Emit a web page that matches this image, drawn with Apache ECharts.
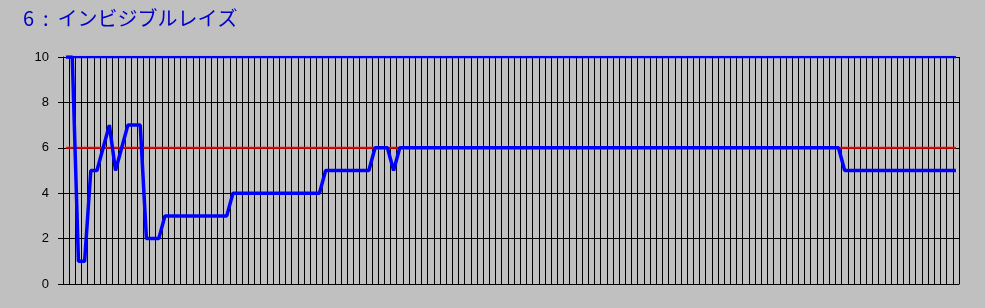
<!DOCTYPE html>
<html>
<head>
<meta charset="utf-8">
<script src="https://cdn.jsdelivr.net/npm/echarts@6/dist/echarts.min.js"></script>
<style>
html,body{margin:0;padding:0;background:#c0c0c0;}
#chart{width:985px;height:308px;}
</style>
</head>
<body>
<div id="chart"></div>
<script>
// ---- data ----
const titleText = "6  :  インビジブルレイズ";
const categoryCount = 145;
const yTicks = [0, 2, 4, 6, 8, 10];
const valuesMain = [
  10, 10, 1, 1, 5, 5, 6, 7, 5, 6, 7, 7, 7, 2, 2, 2,
  3, 3, 3, 3, 3, 3, 3, 3, 3, 3, 3,
  4, 4, 4, 4, 4, 4, 4, 4, 4, 4, 4, 4, 4, 4, 4,
  5, 5, 5, 5, 5, 5, 5, 5,
  6, 6, 6, 5,
  6, 6, 6, 6, 6, 6, 6, 6, 6, 6, 6, 6, 6, 6, 6, 6, 6, 6, 6, 6,
  6, 6, 6, 6, 6, 6, 6, 6, 6, 6, 6, 6, 6, 6, 6, 6, 6, 6, 6, 6,
  6, 6, 6, 6, 6, 6, 6, 6, 6, 6, 6, 6, 6, 6, 6, 6, 6, 6, 6, 6,
  6, 6, 6, 6, 6, 6, 6, 6, 6, 6, 6, 6,
  5, 5, 5, 5, 5, 5, 5, 5, 5, 5, 5, 5, 5, 5, 5, 5, 5, 5, 5
];
const refLevel = 6;   // red reference line
const maxLevel = 10;  // blue top line

const categories = [];
for (let i = 1; i <= categoryCount; i++) categories.push(String(i));
const refValues = categories.map(() => refLevel);
const maxValues = categories.map(() => maxLevel);

const chart = echarts.init(document.getElementById('chart'), null, {renderer: 'canvas'});
chart.setOption({
  animation: false,
  backgroundColor: '#c0c0c0',
  title: {
    text: titleText,
    left: 18,
    top: 3,
    textStyle: {
      fontFamily: '"Noto Sans CJK JP", sans-serif',
      fontSize: 20,
      fontWeight: 'normal',
      color: '#0000c8'
    }
  },
  grid: { left: 63, right: 26, top: 57, bottom: 24, containLabel: false },
  xAxis: {
    type: 'category',
    data: categories,
    boundaryGap: true,
    axisLine: { show: true, lineStyle: { color: '#000', width: 1 } },
    axisTick: { show: false },
    axisLabel: { show: false },
    splitLine: { show: true, interval: 0, lineStyle: { color: '#000', width: 1 } }
  },
  yAxis: {
    type: 'value',
    min: yTicks[0],
    max: yTicks[yTicks.length - 1],
    interval: 2,
    axisLine: { show: true, lineStyle: { color: '#000', width: 1 } },
    axisTick: { show: true, length: 5, lineStyle: { color: '#000' } },
    axisLabel: {
      color: '#000',
      fontFamily: '"Liberation Sans", Arial, sans-serif',
      fontSize: 13,
      margin: 14
    },
    splitLine: { show: true, lineStyle: { color: '#000', width: 1 } }
  },
  series: [
    {
      type: 'line', data: refValues, symbol: 'none',
      lineStyle: { color: '#ff0000', width: 2 }, z: 2
    },
    {
      type: 'line', data: maxValues, symbol: 'none',
      lineStyle: { color: '#0000ff', width: 2.5 }, z: 3
    },
    {
      type: 'line', data: valuesMain, symbol: 'none',
      lineStyle: { color: '#0000ff', width: 3.5 }, z: 4
    }
  ]
});
</script>
</body>
</html>
